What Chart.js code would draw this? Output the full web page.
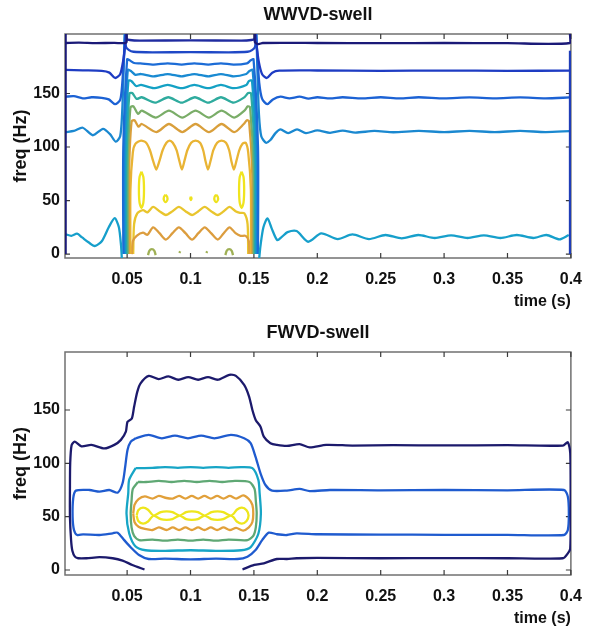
<!DOCTYPE html>
<html>
<head>
<meta charset="utf-8">
<script src="https://cdn.jsdelivr.net/npm/chart.js@4.4.1/dist/chart.umd.min.js"></script>
<style>
  html, body { margin: 0; padding: 0; background: #fff; }
  canvas { display: block; }
</style>
</head>
<body>
<canvas id="wwvd" width="594" height="314"></canvas>
<canvas id="fwvd" width="594" height="316"></canvas>
<script>
// tick labels
const xTicks = [0.05, 0.1, 0.15, 0.2, 0.25, 0.3, 0.35, 0.4];
const yTicks = [0, 50, 100, 150];

// ---- WWVD-swell contours, [time (s), freq (Hz)] ----
const wwEdgeLeft = [[0.0015, 205.6], [0.0015, 0]];
const wwEdgeRight = [[0.3993, 190], [0.3993, 0]];
const wwNavyLeft = [[0.0015,197.2],[0.012,197.5],[0.025,197.1],[0.04,197.3],[0.047,197],[0.0495,198],[0.0495,205.6]];
const wwNavyRight = [[0.1508,205.6],[0.1508,198],[0.1535,196.2],[0.157,197.2],[0.2,197.2],[0.25,197],[0.3,197.2],[0.35,197],[0.3993,197.2],[0.3993,205.6]];
const wwBlueLeft = [[0.0015,172],[0.015,171.6],[0.03,171.2],[0.036,169.5],[0.0405,164.5],[0.0445,168],[0.0468,180],[0.0485,196],[0.049,205.6]];
const wwBlueRight = [[0.1513,205.6],[0.152,196],[0.1538,180],[0.1565,168],[0.1602,164.5],[0.1645,169.5],[0.17,171.3],[0.2,171.5],[0.25,171.2],[0.3,171.4],[0.35,171.2],[0.3993,171.4]];
const wwMidLeft = [[0.0015,147],[0.008,147.5],[0.015,145.5],[0.022,146.5],[0.03,146],[0.0355,144.5],[0.0405,140],[0.0445,144],[0.0462,160],[0.0478,190],[0.0485,205.6]];
const wwMidRight = [[0.1517,205.6],[0.1525,190],[0.1542,160],[0.1565,145],[0.1605,140],[0.165,144.5],[0.171,147],[0.178,145.5],[0.186,147],[0.193,145.3],[0.2,146.5],[0.21,145.5],[0.22,146.5],[0.235,145.5],[0.25,146.5],[0.265,145.5],[0.28,146.5],[0.3,145.5],[0.32,146.3],[0.34,145.5],[0.36,146.3],[0.38,145.5],[0.3993,146.3]];
const wwLightLeft = [[0.0015,114],[0.008,115],[0.015,118],[0.023,111],[0.031,117],[0.0365,112],[0.041,105],[0.0445,110],[0.046,130],[0.0472,170],[0.048,205.6]];
const wwLightRight = [[0.152,205.6],[0.1528,170],[0.154,130],[0.1558,110],[0.1595,104],[0.163,106.5],[0.167,113],[0.171,116.5],[0.177,113],[0.184,116.5],[0.191,113],[0.2,115.5],[0.21,113.3],[0.22,115.3],[0.23,113.5],[0.245,115],[0.26,113.8],[0.28,115],[0.3,114],[0.32,115],[0.34,114],[0.36,115],[0.38,114],[0.3993,114.8]];
const wwCyanLeft = [[0.0015,18.5],[0.006,17],[0.0105,19],[0.0145,15.5],[0.0195,11],[0.0245,7.5],[0.03,12],[0.0355,25],[0.0402,33.5],[0.0435,25],[0.0452,8],[0.0458,-3.7]];
const wwCyanRight = [[0.1542,-3.7],[0.1552,8],[0.1575,25],[0.1607,33.3],[0.164,24],[0.1684,13],[0.172,16],[0.1765,20.5],[0.1837,21.5],[0.1928,11.5],[0.2031,19.3],[0.2161,14],[0.2277,18.3],[0.2407,14],[0.2537,17.8],[0.2666,14.7],[0.2796,17.8],[0.2926,15],[0.3055,17.5],[0.3185,15],[0.3314,17.5],[0.3444,15],[0.3574,17.8],[0.3703,15],[0.3807,17.8],[0.391,13.7],[0.3983,17.8]];

const wwIn1 = [[0.0493,205.6],[0.0493,201],[0.052,200],[0.06,199.5],[0.1,199.6],[0.14,199.5],[0.148,200],[0.1508,201],[0.1508,205.6]];
const wwIn2 = [[0.0488,205.6],[0.049,194],[0.0515,190.5],[0.055,189],[0.07,188.5],[0.1,188.6],[0.13,188.5],[0.145,189],[0.1485,190.5],[0.151,194],[0.1512,205.6]];
const wwIn3 = [[0.047,0],[0.047,100],[0.05,182],[0.052,181],[0.0555,178.5],[0.0605,178.2],[0.071,177],[0.082,178.2],[0.093,177],[0.103,178.2],[0.114,177],[0.124,178.2],[0.134,177],[0.1445,178.2],[0.1475,181],[0.1497,182],[0.1532,100],[0.1532,0]];
const wwIn4 = [[0.0478,0],[0.0478,95],[0.0505,172],[0.053,171],[0.0565,167.5],[0.061,168.2],[0.071,166],[0.082,168.2],[0.093,166],[0.103,168.2],[0.114,166],[0.124,168.2],[0.134,166],[0.144,168.2],[0.1465,171],[0.149,172],[0.1524,95],[0.1524,0]];
const wwIn5 = [[0.0486,0],[0.0486,90],[0.051,162],[0.0535,161.5],[0.057,157],[0.061,158],[0.071,155],[0.082,158],[0.093,155],[0.103,158],[0.114,155],[0.124,158],[0.134,155],[0.144,158],[0.146,161.5],[0.1485,162],[0.1516,90],[0.1516,0]];
const wwIn6 = [[0.0495,0],[0.0495,85],[0.0518,150],[0.054,150.5],[0.0575,145],[0.0615,146.5],[0.072,141.5],[0.0825,146.5],[0.093,141.5],[0.1035,146.5],[0.114,141.5],[0.124,146.5],[0.134,141.5],[0.1425,146.5],[0.1455,150.5],[0.1478,150],[0.1507,85],[0.1507,0]];
const wwIn7 = [[0.0505,0],[0.0505,80],[0.0526,137],[0.055,138],[0.0585,131],[0.0615,134],[0.0725,127.5],[0.083,134],[0.0935,127.5],[0.104,134],[0.1145,127.5],[0.1245,134],[0.1345,127.5],[0.1425,134],[0.1452,138],[0.147,137],[0.1497,80],[0.1497,0]];
const wwIn8 = [[0.0515,0],[0.0515,75],[0.0535,124],[0.0558,125],[0.059,119],[0.0615,121.5],[0.073,114],[0.083,121.5],[0.0935,114],[0.104,121.5],[0.1145,114],[0.1245,121.5],[0.1345,114],[0.142,121.5],[0.1445,125],[0.1462,124],[0.1487,75],[0.1487,0]];
const wwIn9 = [[0.0526,0],[0.0526,60],[0.0545,95],[0.0565,103],[0.061,106],[0.065,104],[0.068,97],[0.0705,87],[0.073,79],[0.0755,87],[0.078,97],[0.081,104],[0.0835,106],[0.086,104],[0.089,97],[0.0912,87],[0.0932,79],[0.0952,87],[0.0975,97],[0.1005,104],[0.104,106],[0.1075,104],[0.11,97],[0.1118,87],[0.1138,79],[0.1158,87],[0.118,97],[0.121,104],[0.1245,106],[0.128,104],[0.1305,97],[0.1322,87],[0.1342,79],[0.1362,87],[0.1385,97],[0.141,103],[0.1435,104],[0.1455,95],[0.1476,60],[0.1476,0]];
const wwLow1 = [[0.0548,0],[0.0555,28],[0.058,38],[0.0625,41],[0.066,39],[0.0705,44],[0.0755,40],[0.0806,36.5],[0.0858,40],[0.0908,44],[0.096,40],[0.1012,36.5],[0.1062,40],[0.1112,44],[0.1162,40],[0.1215,36.5],[0.1262,40],[0.1308,44],[0.1355,40],[0.139,38.5],[0.1425,38],[0.145,28],[0.1455,0]];
const wwLow2 = [[0.0537,0],[0.0545,12],[0.0575,17],[0.0625,20],[0.066,18],[0.0705,25],[0.0755,19.5],[0.0806,13.5],[0.0858,19.5],[0.0908,25],[0.096,19.5],[0.1012,13.5],[0.1062,19.5],[0.1112,25],[0.1162,19.5],[0.1215,13.5],[0.1262,19.5],[0.1308,25],[0.1355,19.5],[0.1395,17],[0.1435,17],[0.146,12],[0.1465,0]];
const wwArcL = [[0.0665,-1],[0.0675,3],[0.0695,4.5],[0.0715,3],[0.0725,-1]];
const wwArcR = [[0.1275,-1],[0.1285,3],[0.1305,4.5],[0.1325,3],[0.1335,-1]];
const wwDotA = [[0.0912,1],[0.0918,2.5]];
const wwDotB = [[0.1125,1],[0.1131,2.5]];
const wwOvalL = [[0.0613,77],[0.0628,72],[0.0633,60],[0.0628,48],[0.0613,43],[0.0598,48],[0.0593,60],[0.0598,72],[0.0613,77]];
const wwOvalR = [[0.1403,77],[0.1418,72],[0.1423,60],[0.1418,48],[0.1403,43],[0.1388,48],[0.1383,60],[0.1388,72],[0.1403,77]];
const wwRing1 = [[0.0803,55.5],[0.0816,53.5],[0.0817,50.5],[0.0803,48.5],[0.079,50.5],[0.0791,53.5],[0.0803,55.5]];
const wwRing2 = [[0.1003,53.5],[0.1008,52],[0.1003,50.5],[0.0998,52],[0.1003,53.5]];
const wwRing3 = [[0.1202,55.5],[0.1215,53.5],[0.1216,50.5],[0.1202,48.5],[0.1189,50.5],[0.119,53.5],[0.1202,55.5]];

// ---- FWVD-swell contours ----
const fwNavy = [[0.0637,0.5],[0.0541,4.7],[0.0464,8.8],[0.0386,11],[0.0282,12],[0.0179,11],[0.0114,11],[0.0088,12.5],[0.0068,18],[0.0058,28],[0.0049,50],[0.0049,75],[0.0051,100],[0.0062,117],[0.0087,120.4],[0.014,116],[0.0218,117.3],[0.0321,114],[0.0399,117.3],[0.0451,122],[0.049,129.7],[0.0503,139],[0.0537,142],[0.0555,153],[0.058,167],[0.0606,175],[0.0671,182],[0.0749,179],[0.0826,181.5],[0.0904,178.4],[0.0982,180.8],[0.106,178.4],[0.1138,180.8],[0.1215,178.4],[0.1306,183],[0.1358,182],[0.1423,173.5],[0.1462,162.6],[0.1488,150],[0.1514,140.7],[0.1552,134.4],[0.1578,125],[0.163,118.9],[0.1682,117.3],[0.176,116.3],[0.186,118],[0.194,115],[0.207,117.3],[0.2277,116.7],[0.26,117],[0.3,116.8],[0.35,117],[0.3937,116.7],[0.3976,119.8],[0.3995,109.5],[0.3998,60],[0.3995,20],[0.3976,15.6],[0.3937,11],[0.35,11],[0.3,11.2],[0.25,11],[0.2,11.3],[0.1837,11],[0.176,10.3],[0.1682,10.3],[0.1578,6.3],[0.1503,4.7],[0.141,0.5]];
const fwBlue = [[0.0568,123.5],[0.067,126.6],[0.0774,123.5],[0.0877,126],[0.098,123.5],[0.1084,126],[0.1188,123.5],[0.1319,126.6],[0.1423,123.5],[0.1474,118.9],[0.1513,106],[0.1552,90.7],[0.1591,79.7],[0.1643,74.4],[0.176,74.5],[0.186,76],[0.194,74],[0.21,75],[0.25,74.7],[0.3,75],[0.35,74.7],[0.3946,75],[0.3976,68.8],[0.3984,53],[0.3976,37.5],[0.3946,32.8],[0.35,33],[0.3,33],[0.25,33.2],[0.2,33.5],[0.1837,34.4],[0.176,32.8],[0.1682,33.5],[0.1617,35],[0.1565,28],[0.1513,18.8],[0.1449,12.5],[0.1371,10.3],[0.12,10.6],[0.1,10],[0.08,10.6],[0.067,10.3],[0.0594,14],[0.0528,21.3],[0.0477,28],[0.0425,35],[0.0386,34.4],[0.0282,32.8],[0.0153,33.4],[0.0106,32.8],[0.0081,37.5],[0.007,50],[0.0075,67.3],[0.0096,74.4],[0.0204,75],[0.0282,73.5],[0.0359,75],[0.0425,72.5],[0.0464,81.3],[0.0485,97],[0.0503,112.6],[0.0529,120.4],[0.0568,123.5]];
const fwCyan = [[0.0567,95.5],[0.0516,84.5],[0.0509,72],[0.0495,53],[0.0516,34.5],[0.0567,22],[0.0645,18.5],[0.08,18],[0.1,18.5],[0.12,18],[0.14,18.5],[0.1475,21.5],[0.1535,34],[0.1555,53],[0.1545,72],[0.1535,84.5],[0.1488,95.5],[0.14,96.5],[0.13,95.8],[0.12,96.5],[0.11,95.8],[0.1,96.5],[0.09,95.8],[0.08,96.5],[0.07,95.8],[0.0567,95.5]];
const fwGreen = [[0.0585,82.5],[0.0545,76],[0.0535,65],[0.0528,53],[0.0535,40],[0.0555,32],[0.0595,28],[0.07,28.5],[0.08,27.5],[0.09,28.5],[0.1,27.5],[0.11,28.5],[0.12,27.5],[0.13,28.5],[0.145,28],[0.1495,32],[0.1515,40],[0.1522,53],[0.1515,65],[0.1505,76],[0.1465,82.5],[0.135,83.5],[0.125,82.5],[0.115,83.5],[0.105,82.5],[0.095,83.5],[0.085,82.5],[0.075,83.5],[0.065,82.5],[0.0585,82.5]];
const fwOrange = [[0.0548,53],[0.0558,61],[0.059,66.5],[0.064,69],[0.07,67],[0.075,69.5],[0.081,67.5],[0.086,67],[0.091,69.5],[0.096,67],[0.101,69.5],[0.106,67],[0.111,69.5],[0.116,67],[0.121,69.5],[0.126,67],[0.131,69.5],[0.136,67],[0.1415,70],[0.146,66.5],[0.1488,61],[0.1495,53],[0.1488,45],[0.146,40],[0.1415,37],[0.136,39.5],[0.131,37.5],[0.126,40],[0.121,37.5],[0.116,40],[0.111,37.5],[0.106,40],[0.101,37.5],[0.096,40],[0.091,37.5],[0.086,40],[0.081,37.5],[0.075,40],[0.07,37.5],[0.064,38.5],[0.059,40.5],[0.0558,45],[0.0548,53]];
const fwYellow = [[0.0575,51],[0.0588,56],[0.0625,58.5],[0.0665,56.5],[0.0693,52.5],[0.0712,51],[0.0765,54.3],[0.0812,55],[0.0858,54.3],[0.0915,51],[0.0965,54.3],[0.101,55],[0.1058,54.3],[0.1112,51],[0.1165,54.3],[0.1212,55],[0.1258,54.3],[0.1315,51],[0.1338,52.5],[0.1365,56.5],[0.1405,58.5],[0.1442,56],[0.1458,51],[0.1442,46],[0.1405,43.5],[0.1365,45.5],[0.1338,49.5],[0.1315,51],[0.1258,47.7],[0.1212,47],[0.1165,47.7],[0.1112,51],[0.1058,47.7],[0.101,47],[0.0965,47.7],[0.0915,51],[0.0858,47.7],[0.0812,47],[0.0765,47.7],[0.0712,51],[0.0693,49.5],[0.0665,45.5],[0.0625,43.5],[0.0588,46],[0.0575,51]];

// parula-like contour colours
const NAVY = '#1b1a78';
const BLUE1 = '#1e3cc3';
const BLUE2 = '#1c62d4';
const BLUE3 = '#1a88d0';
const CYAN = '#169fcb';

const wwvdLines = [
  [wwNavyLeft, NAVY], [wwNavyRight, NAVY], [wwEdgeLeft, NAVY], [wwEdgeRight, '#1f3db8'],
  [wwBlueLeft, BLUE1], [wwBlueRight, BLUE1],
  [wwMidLeft, BLUE2], [wwMidRight, BLUE2],
  [wwLightLeft, BLUE3], [wwLightRight, BLUE3],
  [wwCyanLeft, CYAN], [wwCyanRight, CYAN],
  [wwIn1, '#1f2ba0'], [wwIn2, '#1f48c6'], [wwIn3, '#1c6cd6'], [wwIn4, '#198ad2'],
  [wwIn5, '#14a1c4'], [wwIn6, '#2fab9e'], [wwIn7, '#7aad68'], [wwIn8, '#d99f3b'],
  [wwIn9, '#e9b434'], [wwLow2, '#dc9d3e'], [wwLow1, '#e9c52d'],
  [wwArcL, '#9fb055'], [wwArcR, '#9fb055'], [wwDotA, '#9fb055'], [wwDotB, '#9fb055'],
  [wwOvalL, '#f0e41e'], [wwOvalR, '#f0e41e'], [wwRing1, '#eee21e'], [wwRing2, '#eee21e'], [wwRing3, '#eee21e']
];

const fwvdLines = [
  [fwNavy, '#1c1a6c'], [fwBlue, '#1f5bcf'], [fwCyan, '#17a5c6'],
  [fwGreen, '#5fa874'], [fwOrange, '#e1a03a'], [fwYellow, '#eee61c']
];

const SANS = "'Liberation Sans', Arial, sans-serif";
const TICK_FONT = { family: SANS, size: 16, weight: 'bold' };
const TEXT = '#111';

// box frame and inward tick marks, MATLAB style
const axisBox = {
  id: 'axisBox',
  beforeDatasetsDraw(chart) {
    const { ctx, chartArea: a, scales: { x, y } } = chart;
    ctx.save();
    ctx.strokeStyle = '#707070';
    ctx.lineWidth = 1.5;
    ctx.strokeRect(a.left, a.top, a.right - a.left, a.bottom - a.top);
    ctx.strokeStyle = '#3a3a3a';
    ctx.lineWidth = 1.2;
    ctx.beginPath();
    x.ticks.forEach(t => {
      const px = x.getPixelForValue(t.value);
      ctx.moveTo(px, a.bottom); ctx.lineTo(px, a.bottom - 5);
      ctx.moveTo(px, a.top); ctx.lineTo(px, a.top + 5);
    });
    y.ticks.forEach(t => {
      const py = y.getPixelForValue(t.value);
      ctx.moveTo(a.left, py); ctx.lineTo(a.left + 5, py);
      ctx.moveTo(a.right, py); ctx.lineTo(a.right - 5, py);
    });
    ctx.stroke();
    ctx.restore();
  }
};

function makeChart(id, title, lines, yMin, yMax, opts) {
  new Chart(document.getElementById(id), {
    type: 'scatter',
    data: {
      datasets: lines.map(([pts, color]) => ({
        data: pts.map(([x, y]) => ({ x, y })),
        showLine: true,
        borderColor: color,
        borderWidth: 2.3,
        pointRadius: 0,
        tension: 0.25,
        fill: false
      }))
    },
    options: {
      responsive: false,
      animation: false,
      devicePixelRatio: 1,
      layout: { padding: { left: 0, right: 15, top: 0, bottom: 0 } },
      plugins: {
        legend: { display: false },
        tooltip: { enabled: false },
        title: {
          display: true,
          text: title,
          fullSize: false,
          color: TEXT,
          font: { family: SANS, size: 18, weight: 'bold' },
          padding: opts.titlePad
        }
      },
      scales: {
        x: {
          type: 'linear',
          min: 0.001,
          max: 0.4,
          afterBuildTicks: s => { s.ticks = xTicks.map(v => ({ value: v })); },
          afterFit: s => { s.height = opts.xHeight; },
          grid: { display: false, drawTicks: false },
          border: { display: false },
          ticks: {
            color: TEXT,
            font: TICK_FONT,
            padding: 12,
            maxRotation: 0,
            autoSkip: false,
            callback: v => String(v)
          },
          title: {
            display: true,
            text: 'time (s)',
            align: 'end',
            color: TEXT,
            font: { family: SANS, size: 16, weight: 'bold' },
            padding: { top: 0, bottom: opts.xTitleBottom }
          }
        },
        y: {
          min: yMin,
          max: yMax,
          afterBuildTicks: s => { s.ticks = yTicks.map(v => ({ value: v })); },
          afterFit: s => { s.width = 65; },
          grid: { display: false, drawTicks: false },
          border: { display: false },
          ticks: { color: TEXT, font: TICK_FONT, padding: 5 },
          title: {
            display: true,
            text: 'freq (Hz)',
            color: TEXT,
            font: { family: SANS, size: 18, weight: 'bold' },
            padding: { top: 10, bottom: 0 }
          }
        }
      }
    },
    plugins: [axisBox]
  });
}

makeChart('wwvd', 'WWVD-swell', wwvdLines, -3.7, 205.6,
  { titlePad: { top: 4, bottom: 8.4 }, xHeight: 56, xTitleBottom: 2.4 });
makeChart('fwvd', 'FWVD-swell', fwvdLines, -4.7, 204.4,
  { titlePad: { top: 8, bottom: 8.4 }, xHeight: 55, xTitleBottom: 1.4 });
</script>
</body>
</html>
